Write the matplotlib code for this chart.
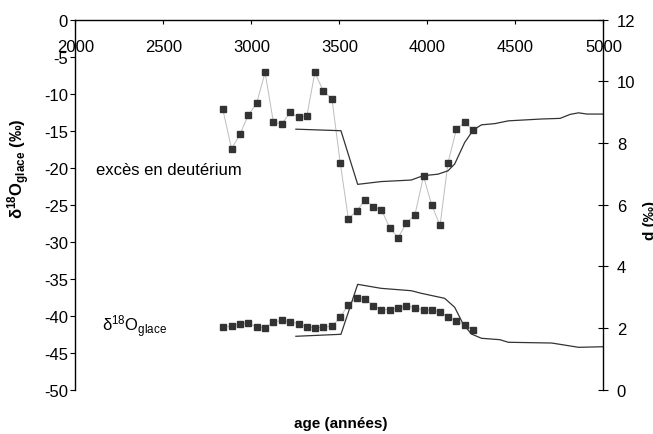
import numpy as np
import matplotlib
matplotlib.use("Agg")
import matplotlib.pyplot as plt

plt.rcParams['font.family'] = ['Liberation Sans', 'DejaVu Sans']
plt.rcParams['mathtext.fontset'] = 'custom'
plt.rcParams['mathtext.rm'] = 'Liberation Sans'
plt.rcParams['mathtext.bf'] = 'Liberation Sans:bold'
plt.rcParams['mathtext.it'] = 'Liberation Sans:italic'
plt.rcParams['axes.unicode_minus'] = False

# sample ages (years) for the measured points
age_pts = [2838, 2888, 2935, 2983, 3030, 3078, 3125, 3173, 3220, 3268, 3315,
           3361, 3408, 3458, 3505, 3551, 3599, 3646, 3693, 3739, 3787, 3834,
           3881, 3929, 3978, 4024, 4072, 4117, 4165, 4212, 4260]
# deuterium excess d (permil), right axis
d_pts = [9.09, 7.81, 8.28, 8.91, 9.29, 10.29, 8.69, 8.61, 9.00, 8.83, 8.87,
         10.29, 9.69, 9.43, 7.35, 5.55, 5.80, 6.16, 5.93, 5.84, 5.24, 4.93,
         5.41, 5.67, 6.92, 6.00, 5.33, 7.36, 8.45, 8.67, 8.42]
# delta 18O ice (permil), left axis
o18_pts = [-41.53, -41.43, -41.08, -41.03, -41.49, -41.62, -40.89, -40.62,
           -40.81, -41.08, -41.49, -41.66, -41.53, -41.43, -40.22, -38.51,
           -37.57, -37.74, -38.65, -39.19, -39.19, -38.92, -38.65, -38.92,
           -39.23, -39.27, -39.50, -40.14, -40.76, -41.22, -41.97]

# smooth curves
age_d_line = [3253, 3509, 3604, 3737, 3908, 3975, 4060, 4117, 4155, 4212, 4260,
              4307, 4383, 4460, 4649, 4754, 4811, 4859, 4906, 5000]
d_line = [8.45, 8.40, 6.66, 6.75, 6.80, 6.94, 6.99, 7.10, 7.32, 8.02, 8.42,
          8.59, 8.63, 8.72, 8.78, 8.80, 8.93, 8.98, 8.94, 8.94]
age_o_line = [3253, 3509, 3604, 3737, 3908, 3965, 4098, 4155, 4203, 4250, 4307,
              4412, 4460, 4706, 4859, 5000]
o18_line = [-42.78, -42.51, -35.76, -36.30, -36.62, -36.97, -37.65, -38.86,
            -41.12, -42.47, -43.05, -43.24, -43.59, -43.69, -44.27, -44.19]

fig = plt.figure(figsize=(6.53, 4.35), dpi=100)
ax = fig.add_axes([0.1153, 0.1018, 0.8088, 0.8506])
ax2 = ax.twinx()

ax.plot(age_pts, o18_pts, color='#bdbdbd', lw=0.7, marker='s', ms=4.2,
        mfc='#333333', mec='#333333')
ax.plot(age_o_line, o18_line, color='#333333', lw=0.9)
ax2.plot(age_pts, d_pts, color='#bdbdbd', lw=0.7, marker='s', ms=4.2,
         mfc='#333333', mec='#333333')
ax2.plot(age_d_line, d_line, color='#333333', lw=0.9)

ax.set_xlim(2000, 5000)
ax.set_ylim(-50, 0)
ax2.set_ylim(0, 12)
ax.set_xticks(np.arange(2000, 5001, 500))
ax.set_yticks(np.arange(-50, 1, 5))
ax2.set_yticks(np.arange(0, 13, 2))

for a in (ax, ax2):
    for side in ('bottom', 'right', 'left', 'top'):
        a.spines[side].set_visible(False)
ax.spines['left'].set_visible(True)
ax.spines['top'].set_visible(True)
ax2.spines['right'].set_visible(True)
for s in (ax.spines['left'], ax.spines['top'], ax2.spines['right']):
    s.set_linewidth(1.0)
    s.set_color('black')

ax.tick_params(axis='x', top=True, bottom=False, labeltop=True, labelbottom=False,
               direction='in', length=3.1, pad=-25, labelsize=12)
ax.tick_params(axis='y', direction='out', length=3.3, pad=2, labelsize=12)
ax2.tick_params(axis='y', direction='inout', length=7.2, pad=6, labelsize=12)

ax.set_ylabel(r'δ$^{\mathbf{18}}$O$_{\mathbf{glace}}$ (‰)', fontsize=12,
              fontweight='bold')
ax.yaxis.set_label_coords(-0.082, 0.6)
ax2.set_ylabel('d (‰)', fontsize=11, fontweight='bold', rotation=90)
ax2.yaxis.set_label_coords(1.075, 0.46)

ax.xaxis.set_label_position('bottom')
ax.set_xlabel('age (années)', fontsize=11, fontweight='bold')
ax.xaxis.set_label_coords(0.502, -0.07)

ax.text(2118, -20.2, 'excès en deutérium', fontsize=12, va='center', ha='left')
ax.text(2152, -41.3, r'δ$^{18}$O$_{\mathrm{glace}}$', fontsize=12,
        va='center', ha='left')

fig.savefig('out.png', dpi=100)
